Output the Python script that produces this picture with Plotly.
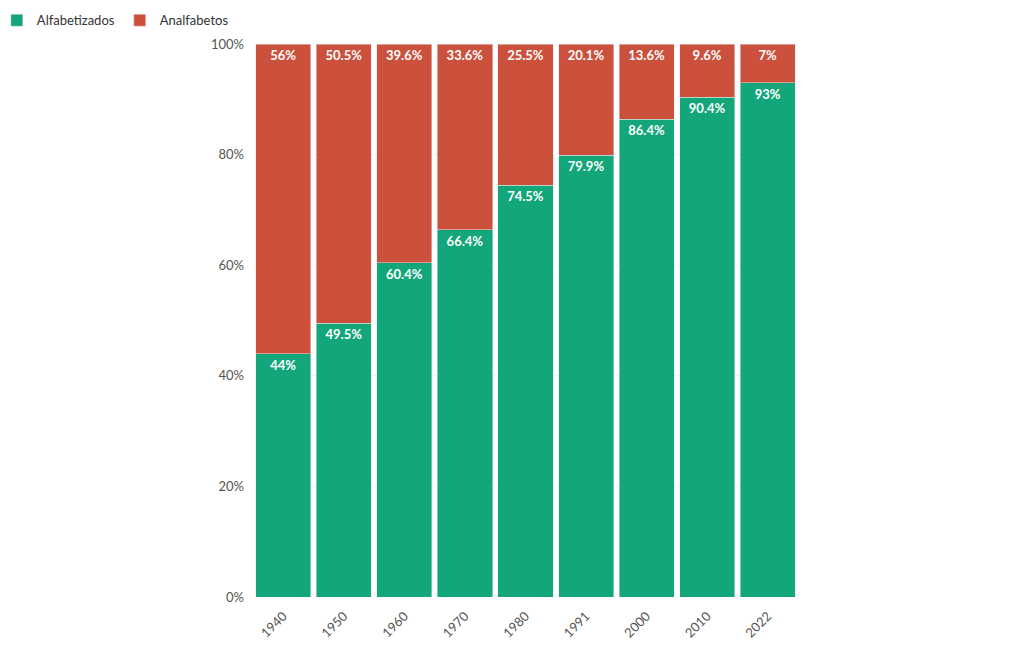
import plotly.graph_objects as go

anos = ["1940", "1950", "1960", "1970", "1980", "1991", "2000", "2010", "2022"]
alfabetizados = [44, 49.5, 60.4, 66.4, 74.5, 79.9, 86.4, 90.4, 93]
analfabetos = [56, 50.5, 39.6, 33.6, 25.5, 20.1, 13.6, 9.6, 7]

verde = "#13A67A"
vermelho = "#CB513D"

fig = go.Figure()
for nome, valores, cor in [("Alfabetizados", alfabetizados, verde),
                           ("Analfabetos", analfabetos, vermelho)]:
    fig.add_trace(go.Bar(
        x=anos, y=valores, name=nome,
        marker=dict(color=cor, line=dict(color="#e8e8e8", width=0.5)),
        text=[f"{v:g}%" for v in valores], textposition="inside",
        insidetextanchor="end", textangle=0, constraintext="none",
        insidetextfont=dict(color="white", size=13, family="Lato", weight="bold"),
    ))

# the page body adds an 8px margin, so the margins are shifted to compensate
fig.update_layout(
    barmode="stack",
    bargap=0.09,
    width=1020, height=650,
    margin=dict(l=245, r=230, t=36, b=61, autoexpand=False),
    plot_bgcolor="#FFFFFF",
    paper_bgcolor="#FFFFFF",
    font=dict(family="Lato", size=13, color="#444"),
    legend=dict(
        orientation="h", x=-0.47, y=1.07,
        xanchor="left", yanchor="top", font=dict(size=13, color="#333"),
        itemwidth=30, traceorder="normal",
    ),
    xaxis=dict(tickangle=-45, showgrid=False, ticks="", automargin=False,
               ticklabelstandoff=8,
               tickfont=dict(size=13, color="#555")),
    yaxis=dict(
        range=[0, 100], ticksuffix="%", dtick=20, automargin=False,
        ticklabelstandoff=8,
        gridcolor="#f2f2f2", zeroline=False, tickfont=dict(size=13, color="#555"),
    ),
)

fig.write_html("out.html")
